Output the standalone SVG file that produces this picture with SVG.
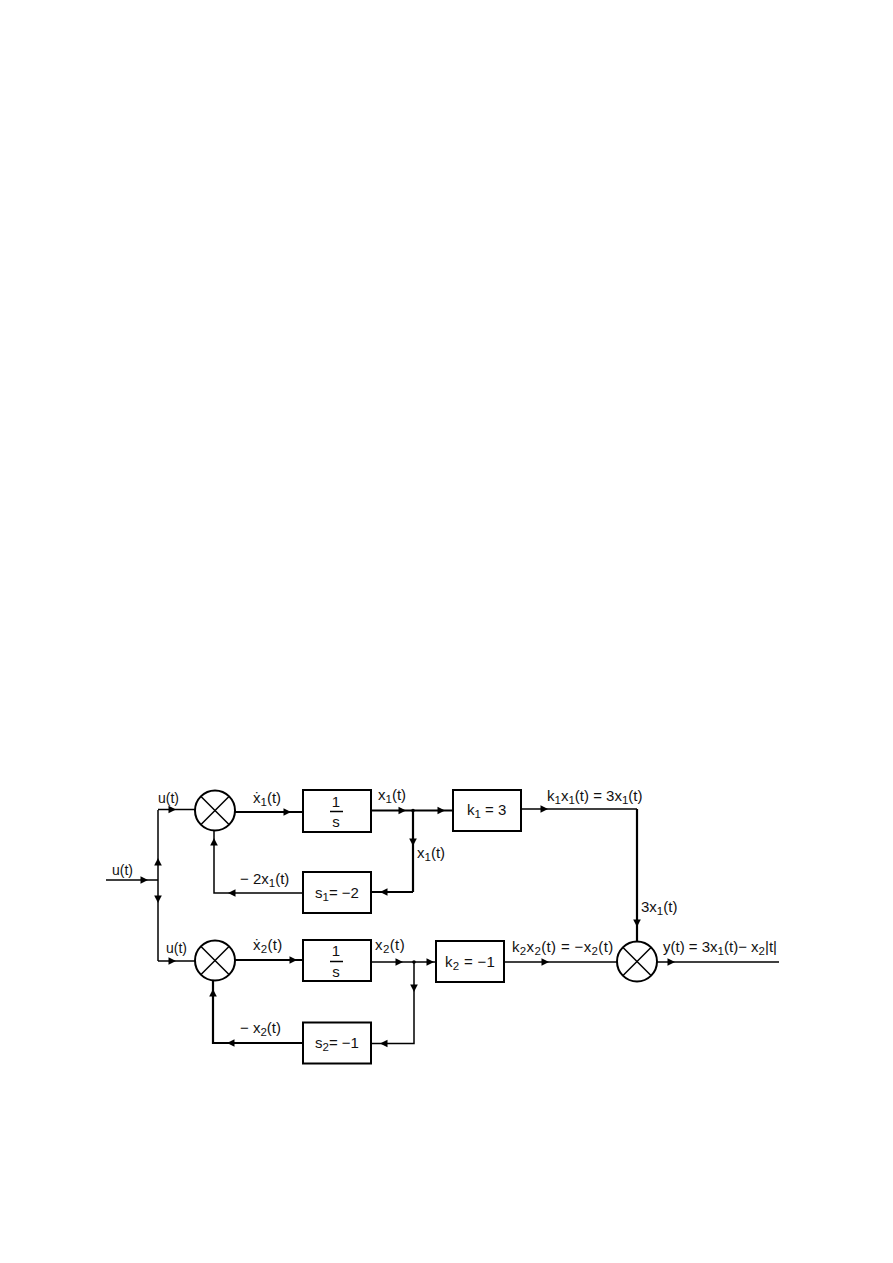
<svg xmlns="http://www.w3.org/2000/svg" width="893" height="1263" viewBox="0 0 893 1263">
<style>
text{font-family:"Liberation Sans",Arial,sans-serif;font-size:15px;fill:#111}
.u{font-size:14px}
.s{font-size:11.500px}
.m{text-anchor:middle}
.box{fill:#fff;stroke:#000;stroke-width:2}
.sum{fill:#fff;stroke:#000;stroke-width:2}
.x{stroke:#000;stroke-width:1.500;fill:none}
.w1{fill:none;stroke:#000;stroke-width:1.500}
.w2{fill:none;stroke:#000;stroke-width:2.200}
</style>
<defs>
<path id="ar" d="M-6.500-3.800L1 0L-6.500 3.800Z" fill="#000"/>
</defs>
<rect width="893" height="1263" fill="#fff"/>
<g id="connectors">
<path class="w1" d="M106 880H158"/>
<path class="w1" d="M158 810V961"/>
<path class="w1" d="M158 809.500H195"/>
<path class="w1" d="M158 961H195"/>
<path class="w2" d="M235 812H303"/>
<path class="w2" d="M371 810.500H453"/>
<path class="w2" d="M413 811V892"/>
<path class="w2" d="M371 892H413"/>
<path class="w1" d="M303 893H214V831"/>
<path class="w1" d="M521 809H637"/>
<path class="w2" d="M637 809V941"/>
<path class="w2" d="M235 960H303"/>
<path class="w1" d="M371 962H436"/>
<path class="w1" d="M414 962V1043.500H371"/>
<path class="w2" d="M303 1043H213V981"/>
<path class="w1" d="M504 962H617"/>
<path class="w1" d="M657 962H779"/>
<circle cx="413" cy="810.500" r="1.800"/>
<circle cx="414" cy="962" r="1.800"/>
<use href="#ar" transform="translate(175 809.500)"/>
<use href="#ar" transform="translate(147 880)"/>
<use href="#ar" transform="translate(158 859) rotate(-90)"/>
<use href="#ar" transform="translate(158 902) rotate(90)"/>
<use href="#ar" transform="translate(175 961)"/>
<use href="#ar" transform="translate(290 812)"/>
<use href="#ar" transform="translate(405 810.500)"/>
<use href="#ar" transform="translate(444 810.500)"/>
<use href="#ar" transform="translate(413 845) rotate(90)"/>
<use href="#ar" transform="translate(381 892) rotate(180)"/>
<use href="#ar" transform="translate(229 893) rotate(180)"/>
<use href="#ar" transform="translate(214 839) rotate(-90)"/>
<use href="#ar" transform="translate(547 809)"/>
<use href="#ar" transform="translate(637 926) rotate(90)"/>
<use href="#ar" transform="translate(296 960)"/>
<use href="#ar" transform="translate(402 962)"/>
<use href="#ar" transform="translate(433 962)"/>
<use href="#ar" transform="translate(414 991) rotate(90)"/>
<use href="#ar" transform="translate(381 1043.500) rotate(180)"/>
<use href="#ar" transform="translate(228 1043) rotate(180)"/>
<use href="#ar" transform="translate(213 990) rotate(-90)"/>
<use href="#ar" transform="translate(548 962)"/>
<use href="#ar" transform="translate(674 962)"/>
</g>
<g id="sum1"><circle class="sum" cx="215" cy="810.500" r="20"/><path class="x" d="M201 796.500L229 824.500M229 796.500L201 824.500"/></g>
<g id="sum2"><circle class="sum" cx="215" cy="960.500" r="20"/><path class="x" d="M201 946.500L229 974.500M229 946.500L201 974.500"/></g>
<g id="sum3"><circle class="sum" cx="637" cy="961.500" r="20"/><path class="x" d="M623 947.500L651 975.500M651 947.500L623 975.500"/></g>
<g id="int1"><rect class="box" x="303" y="790" width="68" height="42"/><text class="m" x="336" y="807">1</text><path class="x" stroke-width="1" d="M330 811.500H343"/><text class="m" x="336" y="827">s</text></g>
<g id="int2"><rect class="box" x="303" y="940" width="68" height="41"/><text class="m" x="336" y="956">1</text><path class="x" stroke-width="1" d="M330 961.500H343"/><text class="m" x="336" y="977">s</text></g>
<g id="s1"><rect class="box" x="303" y="872" width="68" height="41"/><text x="315" y="898">s<tspan class="s" dy="3">1</tspan><tspan dy="-3">= −2</tspan></text></g>
<g id="s2"><rect class="box" x="303" y="1022.500" width="68" height="41"/><text x="315" y="1048">s<tspan class="s" dy="3">2</tspan><tspan dy="-3">= −1</tspan></text></g>
<g id="k1"><rect class="box" x="453" y="790" width="68" height="41"/><text x="467" y="815">k<tspan class="s" dy="3">1</tspan><tspan dy="-3"> = 3</tspan></text></g>
<g id="k2"><rect class="box" x="436" y="941" width="68" height="41"/><text x="445" y="967" letter-spacing=".3">k<tspan class="s" dy="3">2</tspan><tspan dy="-3"> = −1</tspan></text></g>
<g id="labels">
<text class="u" x="158" y="803">u(t)</text>
<text class="u" x="112" y="875">u(t)</text>
<text class="u" x="166" y="953">u(t)</text>
<text x="253" y="803">ẋ<tspan class="s" dy="3">1</tspan><tspan dy="-3">(t)</tspan></text>
<text x="378" y="800">x<tspan class="s" dy="3">1</tspan><tspan dy="-3">(t)</tspan></text>
<text x="417" y="858">x<tspan class="s" dy="3">1</tspan><tspan dy="-3">(t)</tspan></text>
<text x="240" y="884">− 2x<tspan class="s" dy="3">1</tspan><tspan dy="-3">(t)</tspan></text>
<text x="547" y="801">k<tspan class="s" dy="3">1</tspan><tspan dy="-3">x</tspan><tspan class="s" dy="3">1</tspan><tspan dy="-3">(t) = 3x</tspan><tspan class="s" dy="3">1</tspan><tspan dy="-3">(t)</tspan></text>
<text x="641" y="912">3x<tspan class="s" dy="3">1</tspan><tspan dy="-3">(t)</tspan></text>
<text x="253" y="950" letter-spacing=".3">ẋ<tspan class="s" dy="3">2</tspan><tspan dy="-3">(t)</tspan></text>
<text x="375" y="950" letter-spacing=".4">x<tspan class="s" dy="3">2</tspan><tspan dy="-3">(t)</tspan></text>
<text x="240" y="1033">− x<tspan class="s" dy="3">2</tspan><tspan dy="-3">(t)</tspan></text>
<text x="512" y="952" letter-spacing=".35">k<tspan class="s" dy="3">2</tspan><tspan dy="-3">x</tspan><tspan class="s" dy="3">2</tspan><tspan dy="-3">(t) = −x</tspan><tspan class="s" dy="3">2</tspan><tspan dy="-3">(t)</tspan></text>
<text x="663" y="952">y(t) = 3x<tspan class="s" dy="3">1</tspan><tspan dy="-3">(t)− x</tspan><tspan class="s" dy="3">2</tspan><tspan dy="-3">|t|</tspan></text>
</g>
</svg>
